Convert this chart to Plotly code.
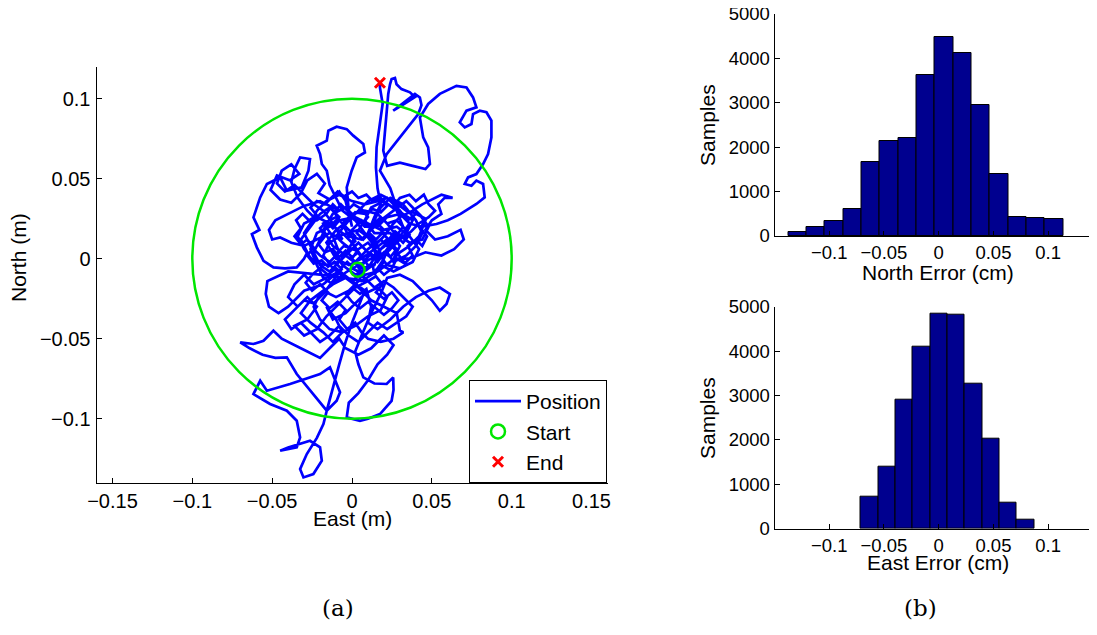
import plotly.graph_objects as go

# ---------------- data ----------------
# trajectory (East, North) in millimetres
track_mm = [
    (4,-7),(8,-2),(3,5),(-5,8),(-10,3),(-6,-4),(2,-10),(10,-6),(15,2),(12,12),(4,18),(-6,15),(-14,10),(-18,2),
    (-12,-6),(-4,-12),(6,-14),(14,-9),(20,0),(24,10),(18,18),(10,22),(2,26),(-8,24),(-16,20),(-20,12),(-24,4),
    (-20,-4),(-14,-8),(-8,-2),(-2,4),(4,10),(10,4),(16,-2),(22,6),(28,14),(22,22),(16,28),(8,30),(0,28),(-6,22),
    (-2,14),(6,12),(12,18),(18,24),(26,30),(34,36),(40,30),(46,24),(42,14),(36,8),(30,4),(24,-2),(16,-8),(8,-10),
    (0,-6),(-6,-10),(-12,-16),(-18,-12),(-22,-4),(-26,6),(-22,16),(-14,20),(-8,26),(-14,32),(-20,28),(-26,20),
    (-32,12),(-28,4),
    (-30,0),(-34.6,-5.4),(-42,-6),(-49.2,-5.4),(-55.4,-1.3),(-59.6,7.1),(-62.7,15.4),(-58,18),(-61.7,25.8),
    (-57.5,38.3),(-53.3,46.7),(-45,50.8),(-40.8,42.5),(-31.5,44.6),(-27.3,55),(-26.3,62.3),(-32.5,63.3),
    (-36,56),(-38,48),(-34,38),(-28,30),(-22,24),(-16,28),(-12,34),(-8,30),(-20,36),(-30,33),(-40,28),
    (-48,24),(-52,18),(-50,12),(-45,13.3),(-38,10),(-30,8),(-22,12),(-14,16),(-6,12),
    (-12,22),(-18,30),(-24,34),(-30,40),(-36,46),(-42,42),(-47,47),(-44,55),(-38,59),(-33,53),(-39,49),
    (-47,52),(-51,43),(-45,37),(-38,35),(-32,41),(-28,49),(-22,53),(-17,47),(-21,41),(-14,37),(-8,42),(-4,36),
    (0,20),(-2,30),(-3.3,44.6),(-0.2,55),(2.9,63.3),(8.1,66.4),(7.1,71.7),(0.8,76.9),(-3.3,81),(-9.6,82.5),
    (-14.8,80),(-15.8,73.8),(-22.1,70.6),(-20,65.4),(-18.9,59.2),(-15.8,55),(-14,46),(-10,38),(-6,30),(2,24),(8,16),
    (14,8),(20,14),(26,22),(32,28),(38,24),(34,16),(28,10),(22,4),(26,-2),(34,2),(40,8),(44,16),(40,24),(32,34),
    (24,38),(18,32),(14,24),(20,18),(28,20),(36,14),(42,6),(38,-2),(30,-6),(22,-4),(16,4),(10,10),(4,6),(0,0),
    (6,-6),(14,-4),(18,6),(26,12),(32,20),(28,30),(20,36),(12,32),(8,24),(14,16),(24,16),(30,8),(26,0),
    (36,0),(46,4),(56,2),(64,6),(70,12),(68,18),(60,14),(52,12),(46,18),(50,24),(56,28),(54,34),(58,38),(63,38),
    (56,40),(48,36),(44,34),(38,30),(30,26),
    (24,44),(17.5,55),(21.7,65.4),(30,76),(41.5,90.4),(43.5,96),(42.5,100.8),(39.4,103),(30,96),(25.8,92.5),
    (33,97),(39.4,101),(36.3,104),(31,106),(27.9,109),(26.9,113),(24.8,112.3),(23.8,109),(22.7,103),(21.7,92.5),
    (20.6,80),(19.6,67.5),(22,58),(30,60),(38,58),(46,56),(48.8,59.2),(47.7,69.6),(44.6,75.8),(42.5,88.3),
    (47.7,96.7),(55,103),(65.4,108),(71.7,107),(75.8,100.8),(77.9,94.6),(71.7,92.5),(67.5,85.2),(70.6,82.1),
    (74.8,84.2),(75.8,90.4),(80,92.5),(84.2,91.5),(87.3,86.3),(87.3,75.8),(85.2,65.4),(82.1,59.2),(77.9,52.9),
    (72.7,50.8),(70.6,46.7),(74.8,45.6),(77.9,48.8),(82.1,46.7),(83.1,38.3),(77.9,34.2),(68,28),(60,24),
    (52.9,21.7),(44,20),(36,22),(30,30),(22,38),(16,36),
    (8,34),(0,36),(-8,40),(-16,36),(-22,30),(-26,22),(-30,16),(-26,8),(-20,2),(-14,-2),(-8,4),(-12,14),(-18,22),
    (-10,26),(-4,20),(2,14),(-2,6),(-8,-2),(-16,-4),(-24,-2),(-30,6),(-34,14),(-30,22),(-22,26),(-14,22),(-6,16),
    (0,10),(6,2),(10,-4),
    (4,-14),(-2,-20),(-10,-24),(-18,-20),(-26,-26),(-32,-34),(-26,-40),(-18,-46),(-12,-52),(-6,-46),(-10,-38),
    (-16,-30),(-12,-38),(-4,-34),(2,-28),(8,-22),(16,-18),(22,-24),(18,-32),(10,-36),
    (2,-42),(-6,-46),(-14,-44),(-20,-38),(-24,-30),(-20,-22),(-12,-16),(-4,-12),(4,-18),(12,-26),(20,-30),
    (28,-34),(30,-45),(32.1,-46),(26,-50),(18,-52),(10,-50),
    (6,-46),(2,-40),(-3,-44),(-8,-38),(-4,-32),(-9,-27),(-14,-31),(-19,-26),(-15,-21),(-20,-16),(-25,-20),
    (-29,-15),(-25,-10),(-20,-6),(-15,-10),(-10,-6),(-5,-10),(0,-14),(5,-10),(10,-14),(15,-11),(19,-16),
    (15,-21),(20,-25),(25,-21),(29,-26),(25,-31),(20,-35),(15,-31),(10,-27),(5,-31),(0,-27),(-4,-22),(0,-18),
    (5,-22),(9,-19),(12,-30),(10,-40),
    (16,-44),(24,-38),(32,-30),(40,-24),(48,-20),(55,-18),(61.3,-22.1),(59.2,-28.3),(55,-32.5),(50,-26),
    (44,-20),(38,-14),(30,-10),(22,-12),
    (18,-22),(12,-34),(6,-48),(2,-58),(4,-66),(7.1,-74.2),(14,-78),(21.7,-78.3),(25.8,-74.2),(26,-82),
    (24.8,-88.8),(17.5,-97.1),(10,-100),(5,-101.3),(-3.3,-99.2),(-2,-90),(4,-84),(10,-76),(16,-66),(22,-60),
    (26,-54),(20,-48),(12,-56),(4,-60),(-4,-56),(-8,-50),
    (-14,-56),(-20,-62),(-28,-58),(-36,-54),(-44,-50),(-49.2,-45),(-55.4,-51.3),(-61.7,-53.3),(-70,-52.3),
    (-64,-56),(-56,-60),(-48,-62),(-40.8,-61.7),(-34.6,-72.1),(-24.2,-84.6),(-15.8,-95),(-9.6,-88.8),
    (-7.5,-83.5),(-13.8,-67.9),(-20,-72.1),(-38.8,-78.3),(-53.3,-82.5),(-57.5,-76.3),(-61.7,-84.6),
    (-51.3,-90.8),(-40.8,-95),(-34.6,-101.3),(-32.5,-111.7),(-34.6,-117.9),(-45,-120),(-40,-118),
    (-26.3,-113.8),(-20,-117.9),(-18.9,-126.3),(-24.2,-134.6),(-30.4,-136.7),(-32.5,-131.5),(-28.3,-122.1),
    (-22,-112),(-17.9,-103.3),(-15.8,-95),(-12,-80),(-8,-66),(-4,-52),(0,-40),(4,-30),(8,-20),
    (0,-14),(-8,-8),(-16,-12),(-24,-16),(-30,-10),(-36,-16),(-40,-24),(-34,-30),(-28,-24),(-22,-30),
    (-28,-38),(-36,-42),(-30,-48),(-22,-44),(-16,-36),(-10,-30),(-4,-24),(2,-18),(10,-14),
    (-20,-10),(-40,-8),(-53,-14),(-54,-22),(-52,-30),(-46,-34),(-40,-30),(-30,-20),(-18,-16),(-6,-6),
    (-12,-14),(-18,-22),(-24,-28),(-30,-26),(-36,-32),(-42,-38),(-38,-44),(-32,-40),(-26,-46),(-20,-52),
    (-14,-48),(-8,-42),(-2,-48),(4,-52),(10,-46),(16,-40),(22,-44),(28,-40),(34,-36),(38,-30),(32,-24),
    (26,-18),(20,-14),(14,-18),(8,-12),
    (2,-2),(10,6),(18,12),(24,6),(30,14),(36,22),(30,28),(22,26),(16,20),(8,20),(2,26),(-4,32),(-12,28),
    (-18,18),(-12,8),(-4,2),(4,-4),(12,0),(20,8),(28,16),(36,10),(44,12),(48,20),(42,28),(34,30),(26,36),
    (18,40),(10,36),(4,30),(-2,24),(-10,18),(-16,10),(-10,0),(-2,-4),(6,0),(14,6),(22,12),(28,4),(34,-4),
    (26,-8),(18,-4),(12,-10),
    (16,-6),(20,-10),(25,-6),(28,0),(33,-3),(38,2),(35,8),(40,12),(44,8),(47,14),(43,19),(46,25),(40,28),
    (35,24),(30,28),(26,33),(30,38),(36,40),(40,36),(45,40),(48,34),(52,30),(48,26),(42,22),(37,17),(32,13),
    (27,17),(23,12),(19,16),(15,12),(11,16),(7,12),(3,16),(6,21),(10,26),(6,31),(1,34),(-3,30),(-7,34),
    (-11,29),(-8,24),(-12,19),(-16,23),(-20,19),(-17,14),(-21,9),(-17,4),(-12,6),(-8,1),(-4,5),(0,1),(4,4),
    (8,-1),(12,3),(16,0),(20,4),(24,1),(28,6),(24,10),(28,14),(32,10),(36,15),(32,20),(28,24),(22,22),
    (18,26),(14,22),(10,20),(6,24),(2,20),(-2,16),(2,11),(-2,7),(-6,10),(-10,14),(-6,19),(-2,24),(2,29),
    (8,28),(13,31),(18,29),(22,33),(18,38),(13,36),(9,40),(4,38),(0,42),(-5,39),(-9,42),(-13,38),(-17,34),
    (-22,36),(-26,32),(-22,27),(-27,24),(-31,28),(-35,24),(-32,19),(-36,14),(-32,9),(-28,12),(-24,7),
    (-28,2),(-24,-3),(-19,-1),(-15,-5),(-11,-2),(-7,-6),(-3,-2),(1,-6),(5,-3),(9,-7),(13,-4),
    (14,-10),(20,-2),(16,8),(10,16),(14,26),(18,34),(16,44),(15,57),(15.4,69.6),(17.5,86.3),(19.2,96.9),
    (17.5,106.9),(17.5,110),
]
east_m = [p[0] / 1000 for p in track_mm]
north_m = [p[1] / 1000 for p in track_mm]

start_east, start_north = [0.0035], [-0.0069]
end_east, end_north = [0.0175], [0.110]
circle_radius = 0.1

x_ticks = [-0.15, -0.1, -0.05, 0, 0.05, 0.1, 0.15]
x_tick_text = ["\u22120.15", "\u22120.1", "\u22120.05", "0", "0.05", "0.1", "0.15"]
y_ticks = [-0.1, -0.05, 0, 0.05, 0.1]
y_tick_text = ["\u22120.1", "\u22120.05", "0", "0.05", "0.1"]

# histograms
north_bin_start = -0.1375
north_bin_width = 0.01674
north_counts = [100, 200, 340, 610, 1667, 2147, 2215, 3619, 4490, 4114, 2943, 1396, 428, 405, 383]
east_bin_start = -0.0713
east_bin_width = 0.01585
east_counts = [728, 1389, 2898, 4107, 4850, 4812, 3258, 2035, 593, 210]

hist_ticks = [-0.1, -0.05, 0, 0.05, 0.1]
hist_tick_text = ["\u22120.1", "\u22120.05", "0", "0.05", "0.1"]
count_ticks = [0, 1000, 2000, 3000, 4000, 5000]

# ---------------- figure ----------------
# the page body has an 8 px margin; the figure is sized so it ends at the window edge
OFF = 8
W, H = 1097 - OFF, 635 - OFF
FONT = "Liberation Sans, Arial, sans-serif"

def px_x(p):
    return (p - OFF) / W

def px_y(p):
    return (H - (p - OFF)) / H

fig = go.Figure()

fig.add_trace(go.Scatter(x=east_m, y=north_m, mode="lines", name="Position",
                         line=dict(color="rgb(0,0,255)", width=2.7),
                         xaxis="x", yaxis="y"))
fig.add_trace(go.Scatter(x=start_east, y=start_north, mode="markers", name="Start",
                         marker=dict(symbol="circle-open", size=14, color="rgb(0,230,0)",
                                     line=dict(width=2.5, color="rgb(0,230,0)")),
                         xaxis="x", yaxis="y"))
fig.add_trace(go.Scatter(x=end_east, y=end_north, mode="markers", name="End",
                         marker=dict(symbol="x-thin-open", size=10, color="rgb(255,0,0)",
                                     line=dict(width=3, color="rgb(255,0,0)")),
                         xaxis="x", yaxis="y"))

north_centers = [north_bin_start + north_bin_width * (i + 0.5) for i in range(len(north_counts))]
east_centers = [east_bin_start + east_bin_width * (i + 0.5) for i in range(len(east_counts))]

fig.add_trace(go.Bar(x=north_centers, y=north_counts, width=north_bin_width,
                     marker=dict(color="rgb(0,0,143)", line=dict(color="black", width=1)),
                     showlegend=False, xaxis="x2", yaxis="y2"))
fig.add_trace(go.Bar(x=east_centers, y=east_counts, width=east_bin_width,
                     marker=dict(color="rgb(0,0,143)", line=dict(color="black", width=1)),
                     showlegend=False, xaxis="x3", yaxis="y3"))

fig.add_shape(type="circle", xref="x", yref="y",
              x0=-circle_radius, x1=circle_radius, y0=-circle_radius, y1=circle_radius,
              line=dict(color="rgb(0,230,0)", width=2.5), layer="above")

def axis_style(size):
    return dict(showgrid=False, zeroline=False, showline=True, linecolor="black",
                linewidth=1, ticks="inside", ticklen=5, tickcolor="black", automargin=False,
                ticklabeloverflow="allow",
                tickfont=dict(family=FONT, size=size, color="black"), mirror=False)

fig.update_layout(
    template="none",
    width=W, height=H,
    margin=dict(l=0, r=0, t=0, b=0, pad=0, autoexpand=False),
    paper_bgcolor="white", plot_bgcolor="white",
    bargap=0,
    xaxis=dict(domain=[px_x(96.5), px_x(607.5)], range=[-0.16, 0.16], tickvals=x_ticks,
               ticktext=x_tick_text, anchor="y", ticklabelstandoff=0, **axis_style(20)),
    yaxis=dict(domain=[px_y(482.7), px_y(66.7)], range=[-0.14, 0.12], tickvals=y_ticks,
               ticktext=y_tick_text, anchor="x", ticklabelstandoff=1, **axis_style(20)),
    xaxis2=dict(domain=[px_x(774.5), 1.0], range=[-0.15, 0.1446], tickvals=hist_ticks,
                ticktext=hist_tick_text, anchor="y2", **axis_style(18.5)),
    yaxis2=dict(domain=[px_y(236), px_y(14)], range=[0, 5000], tickvals=count_ticks,
                anchor="x2", **axis_style(18.5)),
    xaxis3=dict(domain=[px_x(774.5), 1.0], range=[-0.15, 0.1446], tickvals=hist_ticks,
                ticktext=hist_tick_text, anchor="y3", **axis_style(18.5)),
    yaxis3=dict(domain=[px_y(528.7), px_y(306.7)], range=[0, 5000], tickvals=count_ticks,
                anchor="x3", **axis_style(18.5)),
    legend=dict(x=px_x(607), y=px_y(380), xanchor="right", yanchor="top",
                bgcolor="white", bordercolor="black", borderwidth=1,
                font=dict(family=FONT, size=21, color="black"),
                tracegroupgap=0, itemwidth=46),
    showlegend=True,
)

ann = dict(showarrow=False, xref="paper", yref="paper",
           font=dict(family=FONT, size=21, color="black"))
fig.add_annotation(text="East (m)", x=px_x(352), y=px_y(518), xanchor="center", yanchor="middle", **ann)
fig.add_annotation(text="North (m)", x=px_x(18), y=px_y(258), xanchor="center", yanchor="middle",
                   textangle=-90, **ann)
fig.add_annotation(text="Samples", x=px_x(708), y=px_y(125), xanchor="center", yanchor="middle",
                   textangle=-90, **ann)
fig.add_annotation(text="Samples", x=px_x(708), y=px_y(418), xanchor="center", yanchor="middle",
                   textangle=-90, **ann)
fig.add_annotation(text="North Error (cm)", x=px_x(938), y=px_y(272), xanchor="center",
                   yanchor="middle", **ann)
fig.add_annotation(text="East Error (cm)", x=px_x(938), y=px_y(562), xanchor="center",
                   yanchor="middle", **ann)
serif = dict(showarrow=False, xref="paper", yref="paper",
             font=dict(family="DejaVu Serif, Liberation Serif, serif", size=23, color="black"))
fig.add_annotation(text="(a)", x=px_x(338), y=px_y(608), xanchor="center", yanchor="middle", **serif)
fig.add_annotation(text="(b)", x=px_x(920), y=px_y(608), xanchor="center", yanchor="middle", **serif)

fig.write_html("out.html")
